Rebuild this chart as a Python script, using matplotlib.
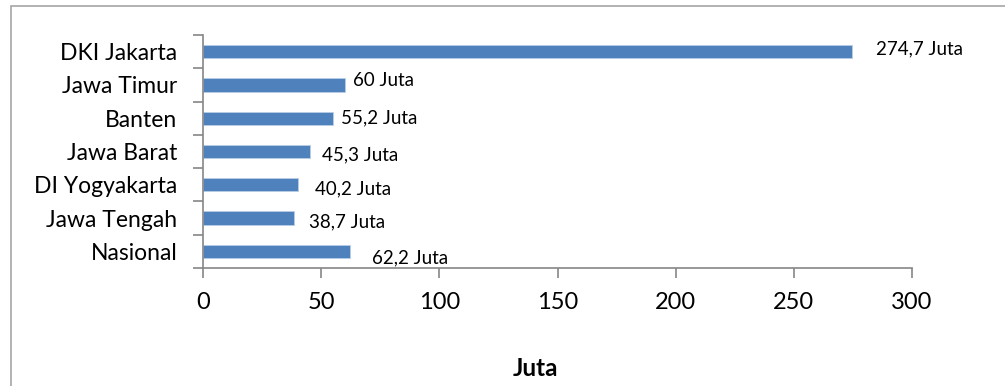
import matplotlib.pyplot as plt
from matplotlib.patches import Rectangle

plt.rcParams['font.family'] = ['Lato', 'DejaVu Sans']

# data (top to bottom as in the chart)
provinces = ["DKI Jakarta", "Jawa Timur", "Banten", "Jawa Barat",
             "DI Yogyakarta", "Jawa Tengah", "Nasional"]
values = [274.7, 60, 55.2, 45.3, 40.2, 38.7, 62.2]
x_ticks = [0, 50, 100, 150, 200, 250, 300]

# label offsets in pixels (dx from bar end, dy from bar centre, + is up)
label_offsets = [(24, 3), (8, 4), (8, 0), (12, -3), (17, -4), (15, -4), (22, -7)]

fig = plt.figure(figsize=(10.05, 3.86), dpi=100)
ax = fig.add_axes([203 / 1005, 1 - 268 / 386, (912 - 203) / 1005, (268 - 35) / 386])

# outer frame (only top and left edges visible in the crop)
fig.patches.append(Rectangle((11 / 1005, -0.1), 1.2, 1 - 6 / 386 + 0.1,
                             transform=fig.transFigure, fill=False,
                             edgecolor='#a6a6a6', linewidth=1.2))

ypos = list(range(len(provinces)))
ax.barh(ypos, values, height=0.4, color='#4f81bd', edgecolor='#b9cde5',
        linewidth=0.6, zorder=2)

for y, v, (dx, dy) in zip(ypos, values, label_offsets):
    txt = f"{v:g}".replace('.', ',') + " Juta"
    ax.annotate(txt, xy=(v, y), xytext=(dx * 0.72, dy * 0.72),
                textcoords='offset points', ha='left', va='center',
                fontsize=13.5, color='black')

ax.set_ylim(len(provinces) - 0.5, -0.5)
ax.set_xlim(0, 300)

ax.set_yticks([i - 0.5 for i in range(len(provinces) + 1)], minor=False)
ax.set_yticklabels([])
ax.set_yticks(ypos, minor=True)
ax.set_yticklabels(provinces, minor=True, fontsize=16.5)
ax.tick_params(axis='y', which='minor', length=0, pad=18.5)
ax.tick_params(axis='y', which='major', length=7, width=1.2, color='#868686')

ax.set_xticks(x_ticks)
ax.set_xticklabels([str(t) for t in x_ticks], fontsize=17)
ax.tick_params(axis='x', length=7, width=1.2, color='#868686', pad=10)

for side in ['top', 'right']:
    ax.spines[side].set_visible(False)
for side in ['left', 'bottom']:
    ax.spines[side].set_color('#868686')
    ax.spines[side].set_linewidth(1.2)

ax.set_xlabel("Juta", fontsize=17.5, fontweight='bold', va='center')
ax.xaxis.set_label_coords((535.5 - 203) / 709, (268 - 368) / 233)

fig.savefig("out.png", dpi=100)
